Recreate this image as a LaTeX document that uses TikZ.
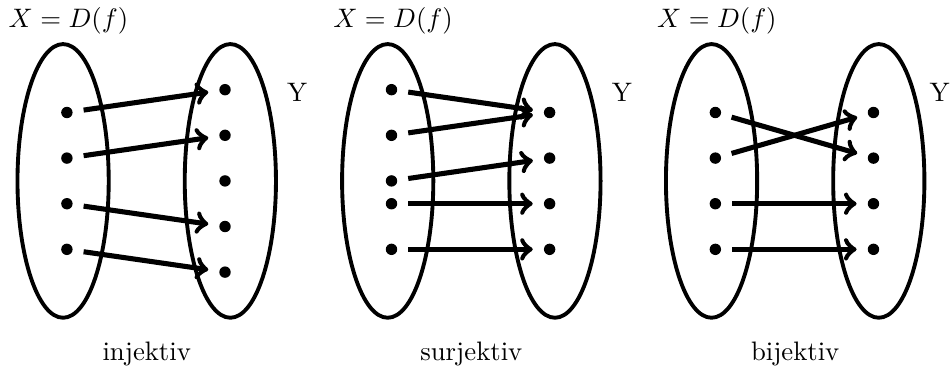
\documentclass[tikz,border=0pt]{standalone}
\usepackage{tikz}

\begin{document}
\begin{tikzpicture}[
    >=to, % Curved arrow tips
    set/.style={line width=1.45pt}, % Style for the outline of a set
    dot/.style={fill, circle, inner sep=0pt, minimum size=0.15cm}, % Style for an element
    map/.style={->, line width=1.9pt, shorten <=0.14cm, shorten >=0.14cm} % Style for x -> f(x)
]

    \useasboundingbox (0,0) rectangle (12.51,4.83);

    % injektiv
    \begin{scope}[shift={(0.83,2.45)}]
        \draw[set] (0,0) ellipse [x radius=0.6, y radius=1.8];
        \draw[set] (2.2,0) ellipse [x radius=0.6, y radius=1.8];
        \foreach \y [count=\k] in {0.9,0.3,-0.3,-0.9} \node[dot] (ix\k) at (0.05,\y) {};
        \foreach \y [count=\k] in {1.2,0.6,0,-0.6,-1.2} \node[dot] (iy\k) at (2.13,\y) {};
        \draw[map] (ix1) -- (iy1);
        \draw[map] (ix2) -- (iy2);
        \draw[map] (ix3) -- (iy4);
        \draw[map] (ix4) -- (iy5);
        \node (iX) at (0.07,2.1) {$X = D(f)$};
        \node (iY) at (3.08,1.17) {Y};
        \node (iname) at (1.1,-2.27) {injektiv};
    \end{scope}

    % surjektiv
    \begin{scope}[shift={(5.1,2.45)}]
        \draw[set] (0,0) ellipse [x radius=0.6, y radius=1.8];
        \draw[set] (2.2,0) ellipse [x radius=0.6, y radius=1.8];
        \foreach \y [count=\k] in {1.2,0.6,0,-0.3,-0.9} \node[dot] (sx\k) at (0.05,\y) {};
        \foreach \y [count=\k] in {0.9,0.3,-0.3,-0.9} \node[dot] (sy\k) at (2.13,\y) {};
        \draw[map] (sx1) -- (sy1);
        \draw[map] (sx2) -- (sy1);
        \draw[map] (sx3) -- (sy2);
        \draw[map] (sx4) -- (sy3);
        \draw[map] (sx5) -- (sy4);
        \node (sX) at (0.07,2.1) {$X = D(f)$};
        \node (sY) at (3.08,1.17) {Y};
        \node (sname) at (1.1,-2.27) {surjektiv};
    \end{scope}

    % bijektiv
    \begin{scope}[shift={(9.36,2.45)}]
        \draw[set] (0,0) ellipse [x radius=0.6, y radius=1.8];
        \draw[set] (2.2,0) ellipse [x radius=0.6, y radius=1.8];
        \foreach \y [count=\k] in {0.9,0.3,-0.3,-0.9} \node[dot] (bx\k) at (0.05,\y) {};
        \foreach \y [count=\k] in {0.9,0.3,-0.3,-0.9} \node[dot] (by\k) at (2.13,\y) {};
        \draw[map] (bx1) -- (by2);
        \draw[map] (bx2) -- (by1);
        \draw[map] (bx3) -- (by3);
        \draw[map] (bx4) -- (by4);
        \node (bX) at (0.07,2.1) {$X = D(f)$};
        \node (bY) at (3.0,1.17) {Y};
        \node (bname) at (1.1,-2.27) {bijektiv};
    \end{scope}

\end{tikzpicture}
\end{document}
